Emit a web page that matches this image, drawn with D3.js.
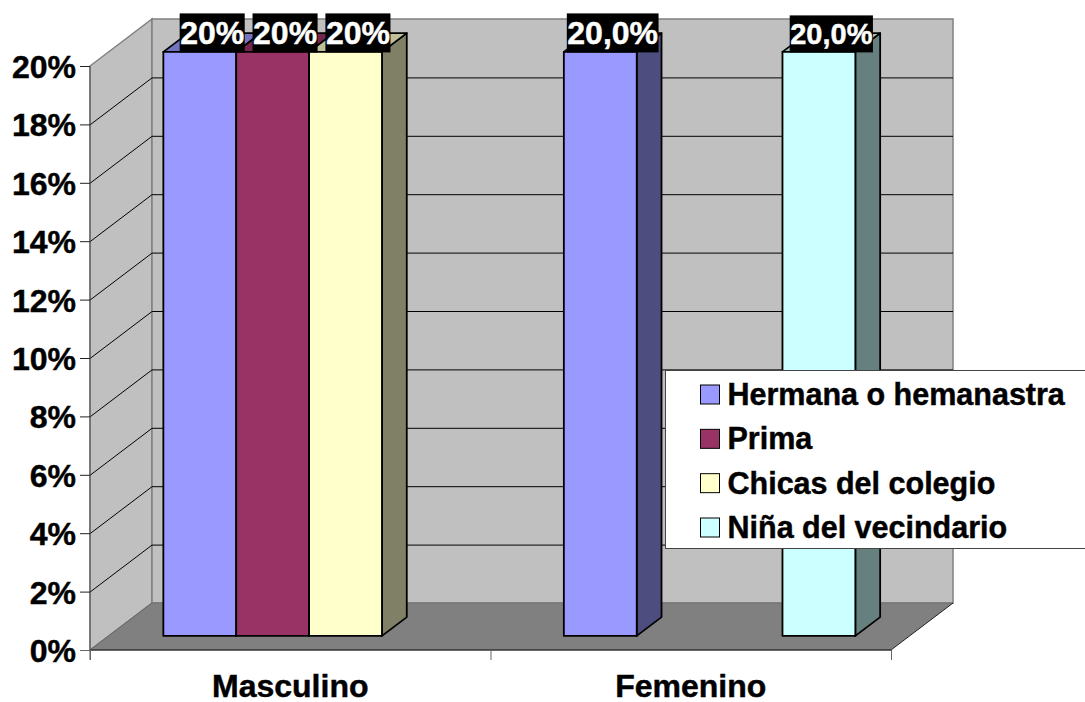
<!DOCTYPE html>
<html><head><meta charset="utf-8">
<script src="https://cdnjs.cloudflare.com/ajax/libs/d3/7.8.5/d3.min.js"></script>
<style>html,body{margin:0;background:#fff}svg{display:block}text{font-family:"Liberation Sans",Arial,sans-serif;font-weight:bold;stroke:currentColor;stroke-width:.45px}</style>
</head><body><svg width="1085" height="702"></svg>
<script>
const categories = ["Masculino", "Femenino"];
const seriesNames = ["Hermana o hemanastra", "Prima", "Chicas del colegio", "Niña del vecindario"];
const hermana = [20, 20];
const prima = [20, null];
const chicas = [20, null];
const nina = [null, 20];
const dataLabels = [["20%", "20,0%"], ["20%", null], ["20%", null], [null, "20,0%"]];
const yTicks = [0, 2, 4, 6, 8, 10, 12, 14, 16, 18, 20];
const seriesColors = ["#9999FF", "#993366", "#FFFFCC", "#CCFFFF"];
const seriesValues = [hermana, prima, chicas, nina];

const svg = d3.select("svg");
const x = d3.scaleBand().domain(categories).range([90, 891]);
const y = d3.scaleLinear().domain([0, 20]).range([650, 66]);
const slot = d3.scaleBand().domain(d3.range(4)).range([-145.5, 146]);
const depth = {dx: 62, dy: -47};
const barStart = 0.3, barDepth = 0.4;
const off = t => [depth.dx * t, depth.dy * t];
const poly = pts => pts.map(p => p.join(",")).join(" ");

const x0 = x.range()[0], x1 = x.range()[1], yb = y(0), yt = y(20);
const W = "#808080";
// walls
svg.append("polygon").attr("points", poly([[x0, yb], [x0 + depth.dx, yb + depth.dy], [x0 + depth.dx, yt + depth.dy], [x0, yt]]))
  .attr("fill", "#C0C0C0").attr("stroke", W).attr("stroke-width", 1.5);
svg.append("polygon").attr("points", poly([[x0 + depth.dx, yb + depth.dy], [x1 + depth.dx, yb + depth.dy], [x1 + depth.dx, yt + depth.dy], [x0 + depth.dx, yt + depth.dy]]))
  .attr("fill", "#C0C0C0").attr("stroke", W).attr("stroke-width", 1.5);
// gridlines
yTicks.filter(t => t > 0 && t < 20).forEach(t => {
  svg.append("polyline").attr("fill", "none").attr("stroke", "#000").attr("stroke-width", 1)
    .attr("points", poly([[x0, y(t) + .5], [x0 + depth.dx, y(t) + depth.dy + .5], [x1 + depth.dx, y(t) + depth.dy + .5]]));
});
// floor
svg.append("polygon").attr("points", poly([[x0, yb], [x1, yb], [x1 + depth.dx, yb + depth.dy], [x0 + depth.dx, yb + depth.dy]]))
  .attr("fill", "#808080");
svg.append("line").attr("x1", x0 + depth.dx).attr("x2", x1 + depth.dx).attr("y1", yb + depth.dy).attr("y2", yb + depth.dy).attr("stroke", "#707070").attr("stroke-width", 1);
svg.append("line").attr("x1", x1).attr("y1", yb).attr("x2", x1 + depth.dx).attr("y2", yb + depth.dy).attr("stroke", "#222").attr("stroke-width", 1);
svg.append("line").attr("x1", x0).attr("y1", yb).attr("x2", x0 + depth.dx).attr("y2", yb + depth.dy).attr("stroke", "#666").attr("stroke-width", 1);
// axes
svg.append("line").attr("x1", x0).attr("x2", x1).attr("y1", yb).attr("y2", yb).attr("stroke", "#333").attr("stroke-width", 1.5);
svg.append("line").attr("x1", x0).attr("x2", x0).attr("y1", yt).attr("y2", yb + 10).attr("stroke", "#555").attr("stroke-width", 1);
yTicks.forEach(t => {
  svg.append("line").attr("x1", x0 - 10).attr("x2", x0).attr("y1", y(t) + .5).attr("y2", y(t) + .5).attr("stroke", t === 0 ? "#666" : "#222");
  svg.append("text").attr("x", 76).attr("y", y(t) + 12).attr("text-anchor", "end").attr("font-size", 32).text(t + "%");
});
[x0, x0 + x.bandwidth(), x1].forEach(v => {
  svg.append("line").attr("x1", v + .5).attr("x2", v + .5).attr("y1", yb).attr("y2", yb + 10).attr("stroke", "#666");
});
categories.forEach(c => {
  svg.append("text").attr("x", x(c) + x.bandwidth() / 2).attr("y", 696.5).attr("text-anchor", "middle").attr("font-size", 32).text(c);
});
// bars
const shade = (c, k) => { const q = d3.rgb(c); return d3.rgb(q.r * k, q.g * k, q.b * k).formatHex(); };
const [ox, oy] = off(barStart), [bx, by] = off(barDepth);
const labelItems = [];
categories.forEach((c, ci) => {
  seriesValues.forEach((vals, si) => {
    const v = vals[ci];
    if (v == null) return;
    const l = x(c) + x.bandwidth() / 2 + slot(si) + ox;
    const r = l + slot.bandwidth();
    const b = y(0) + oy, t = y(v) + oy;
    const col = seriesColors[si];
    const g = svg.append("g").attr("stroke", "#000").attr("stroke-width", 1.8).attr("stroke-linejoin", "round");
    g.append("polygon").attr("fill", shade(col, .5)).attr("points", poly([[r, b], [r + bx, b + by], [r + bx, t + by], [r, t]]));
    g.append("polygon").attr("fill", shade(col, .75)).attr("points", poly([[l, t], [r, t], [r + bx, t + by], [l + bx, t + by]]));
    g.append("rect").attr("fill", col).attr("x", l).attr("y", t).attr("width", r - l).attr("height", b - t);
    labelItems.push({cx: (l + r + bx) / 2, bottom: t, text: dataLabels[si][ci], small: si === 3});
  });
});
// data labels
labelItems.forEach(d => {
  const fs = d.small ? 29 : 32;
  const g = svg.append("g");
  const bg = g.append("rect").attr("fill", "#000");
  const tx = g.append("text").attr("x", d.cx).attr("y", d.bottom - 8).attr("text-anchor", "middle").attr("font-size", fs).attr("fill", "#fff").style("stroke", "#fff").text(d.text);
  const w = tx.node().getComputedTextLength() + 1;
  const h = d.small ? 37 : 39;
  bg.attr("x", d.cx - w / 2).attr("y", d.bottom - h + .5).attr("width", w).attr("height", h);
});
// legend
const lg = svg.append("g");
lg.append("rect").attr("x", 665.5).attr("y", 370.5).attr("width", 440).attr("height", 178).attr("fill", "#fff").attr("stroke", "#444");
const legendY = d3.scalePoint().domain(seriesNames).range([395, 528]);
seriesNames.forEach((n, i) => {
  lg.append("rect").attr("x", 700.5).attr("y", legendY(n) - 10).attr("width", 19).attr("height", 19).attr("fill", seriesColors[i]).attr("stroke", "#000").attr("stroke-width", 1);
  lg.append("text").attr("x", 727.5).attr("y", legendY(n) + 10).attr("font-size", 30.5).text(n);
});
</script></body></html>
